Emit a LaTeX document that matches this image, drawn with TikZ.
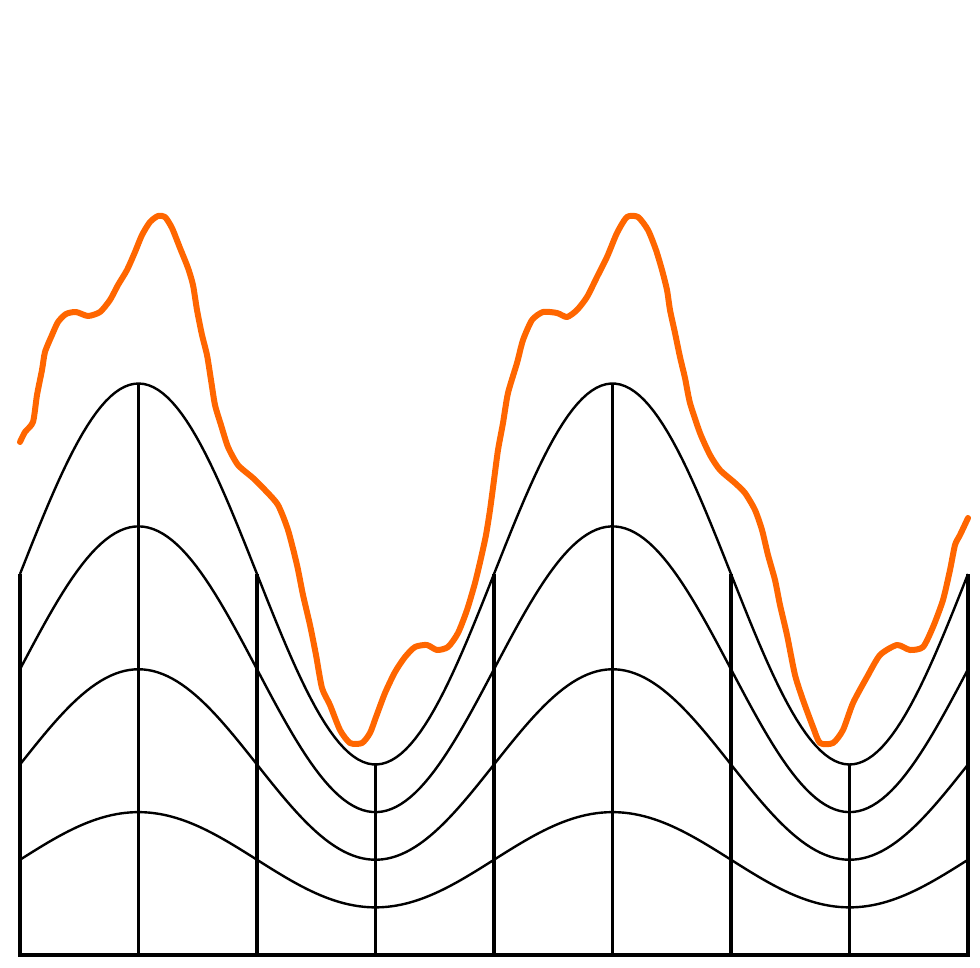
\documentclass[tikz,border=0pt]{standalone}
\definecolor{wave}{RGB}{255,102,0}
\tikzset{
  grid line/.style={black,line width=3.2pt},
  level curve/.style={black,line width=2.4pt,line join=round},
  hand curve/.style={wave,line width=6pt,line join=round,line cap=round}
}
\begin{document}
\begin{tikzpicture}[x=1pt,y=-1pt]
\useasboundingbox (0,0) rectangle (980,968);
% level curves
\foreach \k in {1,2,3,4}{
  \draw[level curve] plot[domain=20:968,samples=200,variable=\t]
    ({\t},{955-95.25*\k*(1+0.5*cos((\t-138.5)*0.7594937))});
}
% verticals
\foreach \i in {0,...,8}{
  \pgfmathsetmacro{\xx}{20+118.5*\i}
  \pgfmathsetmacro{\yy}{955-381*(1+0.5*cos((\xx-138.5)*0.7594937))}
  \coordinate (b\i) at (\xx,955);
  \coordinate (t\i) at (\xx,\yy);
  \draw[grid line] (b\i) -- (t\i);
}
\draw[grid line,line cap=rect] (b0) -- (b8);
% hand-drawn orange curve
\draw[hand curve] plot[smooth,tension=0.4] coordinates {
(20,442) (25,432) (33,422) (37,395) (42,370) (45,352) (52,335) (58,322) (66,314) (76,312) (88,316) (100,312) (110,300) (118,285) (127,270) (135,252) (142,235) (150,222) (158,216) (165,217) (172,228) (180,248) (188,268) (193,285) (197,310) (202,335) (207,355) (211,380) (215,405) (221,425) (228,447) (238,465) (253,478) (265,490) (278,505) (288,530) (297,565) (303,595) (310,625) (316,655) (322,688) (330,705) (340,730) (350,743) (362,743) (370,733) (376,717) (385,693) (395,672) (405,657) (415,647) (427,645) (437,650) (448,647) (458,633) (467,610) (475,583) (481,558) (486,535) (490,510) (494,480) (498,450) (503,423) (508,393) (517,363) (523,340) (532,320) (543,312) (557,313) (567,317) (577,310) (587,297) (597,277) (607,257) (617,233) (627,217) (638,217) (648,230) (656,250) (662,270) (667,290) (670,310) (675,333) (680,357) (685,378) (690,403) (700,433) (710,455) (720,470) (735,483) (745,493) (755,510) (762,530) (768,555) (775,580) (780,605) (787,635) (795,675) (803,700) (813,727) (820,743) (833,743) (843,730) (853,703) (867,677) (880,655) (897,645) (910,650) (923,647) (933,627) (943,600) (950,570) (955,545) (960,535) (968,518)
};
\end{tikzpicture}
\end{document}
